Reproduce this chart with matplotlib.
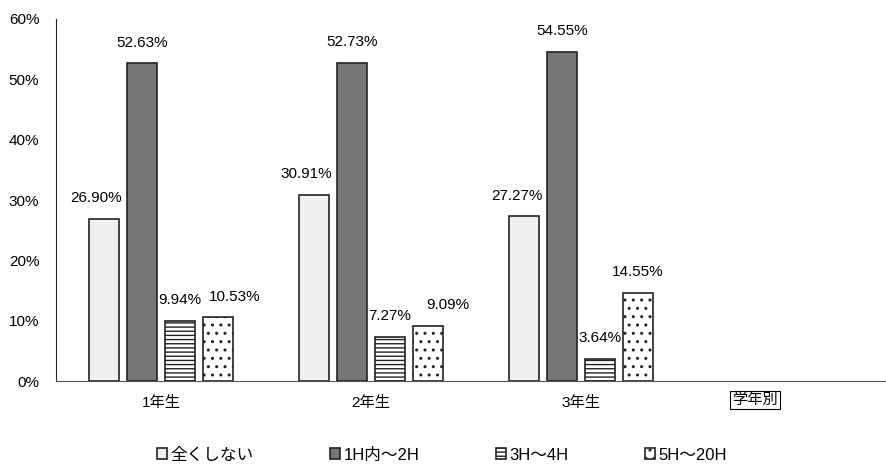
import numpy as np
import matplotlib.pyplot as plt

plt.rcParams['font.family'] = ['Liberation Sans', 'Noto Sans CJK JP', 'DejaVu Sans']
plt.rcParams['hatch.linewidth'] = 1.0

categories = ['1年生', '2年生', '3年生', '']
series = ['全くしない', '1H内～2H', '3H～4H', '5H～20H']
values = [
    [26.90, 30.91, 27.27],
    [52.63, 52.73, 54.55],
    [9.94, 7.27, 3.64],
    [10.53, 9.09, 14.55],
]
colors = ['#f0f0f2', '#767679', 'white', 'white']
hatches = ['', '', '----', '..']
# label nudges in pixels (as placed in the original to avoid overlaps)
nudge = [[-8, -8, -7], [0, 0, 0], [0, 0, 0], [17, 20, 0]]

fig = plt.figure(figsize=(8.87, 4.69), dpi=100)
ax = fig.add_axes([56 / 887, 1 - 381 / 469, 840 / 887, 362 / 469])

x = np.arange(3)
step = 0.181
width = 0.143
for i, vals in enumerate(values):
    pos = x + (i - 1.5) * step
    bars = ax.bar(pos, vals, width, color=colors[i], edgecolor='#222222',
                  linewidth=1.2, hatch=hatches[i], label=series[i])
    for j, (b, v) in enumerate(zip(bars, vals)):
        ax.annotate(f'{v:.2f}%', (b.get_x() + b.get_width() / 2, v),
                    xytext=(nudge[i][j] * 0.72, 15), textcoords='offset points',
                    ha='center', va='center', fontsize=11)

ax.set_xlim(-0.5, 3.5)
ax.set_ylim(0, 60)
ax.set_yticks(np.arange(0, 61, 10))
ax.set_yticklabels([f'{t}%' for t in range(0, 61, 10)], fontsize=11)
ax.set_xticks(np.arange(4))
ax.set_xticklabels(categories, fontsize=11)
ax.tick_params(axis='x', length=0, pad=11)
ax.tick_params(axis='y', length=0, pad=12)
for s in ['top', 'right']:
    ax.spines[s].set_visible(False)
ax.spines['left'].set_color('#222222')
ax.spines['bottom'].set_color('#555555')

fig.text(755 / 887, 1 - 400 / 469, '学年別', fontsize=11, ha='center', va='center',
         bbox=dict(facecolor='white', edgecolor='black', pad=1.5, linewidth=0.8))

fig.legend(loc='center', bbox_to_anchor=(442 / 887, 1 - 455 / 469), ncol=4,
           frameon=False, fontsize=12, handlelength=0.6, handleheight=0.6,
           handletextpad=0.2, columnspacing=4.6)

fig.savefig('out.png', dpi=100)
